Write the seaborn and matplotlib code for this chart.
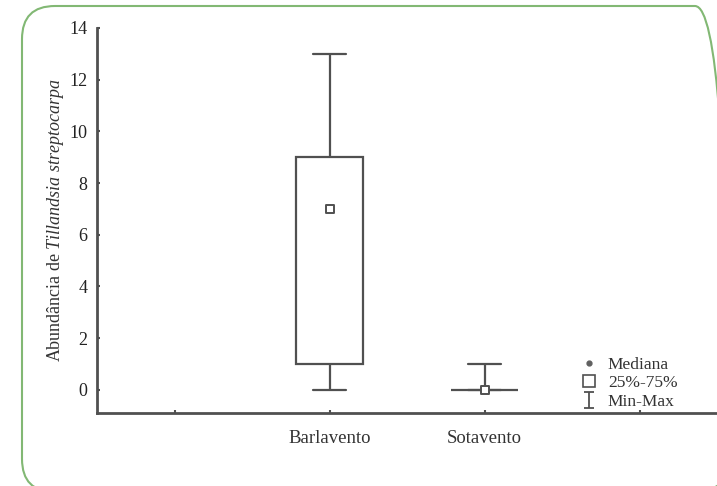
import matplotlib
matplotlib.use("Agg")
import matplotlib.pyplot as plt
from matplotlib.lines import Line2D
from matplotlib.path import Path
from matplotlib.patches import FancyBboxPatch
import pandas as pd
import seaborn as sns

# five-number summary per site (Min, 25%, Mediana, 75%, Max)
sites = ["Barlavento", "Sotavento"]
slots = ["", "Barlavento", "Sotavento", " "]
mins = [0, 0]
q1s = [1, 0]
medians = [7, 0]
q3s = [9, 0]
maxs = [13, 1]
yticks = [0, 2, 4, 6, 8, 10, 12, 14]
legend_labels = ["Mediana", "25%-75%", "Min-Max"]

sns.set_style("white")
plt.rcParams["font.family"] = ["Liberation Serif", "DejaVu Serif"]
plt.rcParams["mathtext.fontset"] = "custom"
plt.rcParams["mathtext.rm"] = "Liberation Serif"
plt.rcParams["mathtext.it"] = "Liberation Serif:italic"

# with whis=(0, 100) seaborn recovers exactly these five numbers
rows = []
for s, a, b, c, d, e in zip(sites, mins, q1s, medians, q3s, maxs):
    for v in (a, b, c, d, e):
        rows.append({"site": s, "abund": v})
df = pd.DataFrame(rows)
med_df = pd.DataFrame({"site": sites, "abund": medians})

dark = "#505050"
fig = plt.figure(figsize=(7.17, 4.86), dpi=100)
ax = fig.add_axes([0.1353, 0.150, 0.865, 0.7924])

sns.boxplot(data=df, x="site", y="abund", order=slots, whis=(0, 100), width=0.43,
            color="white", linecolor=dark, linewidth=1.6,
            medianprops={"visible": False}, ax=ax)
sns.stripplot(data=med_df, x="site", y="abund", order=slots, jitter=False,
              marker="s", size=5.5, color="white", edgecolor=dark, linewidth=1.4,
              zorder=5, ax=ax)

ax.set_xlim(-0.5, 3.5)
ax.set_ylim(-0.9, 14)
ax.set_yticks(yticks)
ax.set_xlabel("")
ax.set_ylabel(r"Abundância de $\mathit{Tillandsia\ streptocarpa}$",
              fontsize=13, color="#333333", labelpad=2)

sns.despine(ax=ax)
for side in ("left", "bottom"):
    ax.spines[side].set_color(dark)
    ax.spines[side].set_linewidth(2)
ax.tick_params(bottom=True, left=True, direction="in", length=2.5, width=1.5, color=dark)
ax.tick_params(axis="x", labelsize=13.5, labelcolor="#333333", pad=12)
ax.tick_params(axis="y", labelsize=13, labelcolor="#222222", pad=7)

# I-beam marker for the Min-Max legend entry
ibeam = Path([(-0.6, 1), (0.6, 1), (0, 1), (0, -1), (-0.6, -1), (0.6, -1)],
             [Path.MOVETO, Path.LINETO, Path.MOVETO, Path.LINETO, Path.MOVETO, Path.LINETO])
handles = [
    Line2D([], [], ls="none", marker="o", ms=3.5, color="#606060"),
    Line2D([], [], ls="none", marker="s", ms=8, mfc="white", mec=dark, mew=1.2),
    Line2D([], [], ls="none", marker=ibeam, ms=12, mfc="none", mec=dark, mew=1.3),
]
ax.legend(handles, legend_labels, loc="lower left", bbox_to_anchor=(0.797, 0.138),
          bbox_transform=fig.transFigure, frameon=False, fontsize=12.5,
          handlelength=1.0, handletextpad=0.6, labelspacing=0.15, borderpad=0,
          labelcolor="#333333")

# green rounded frame around the whole figure (pixel coordinates)
frame = FancyBboxPatch((22, -6), 706, 486, boxstyle="round,pad=0,rounding_size=33",
                       fill=False, edgecolor="#82b874", linewidth=1.5, transform=None)
fig.patches.append(frame)

fig.savefig("out.png", dpi=100)
